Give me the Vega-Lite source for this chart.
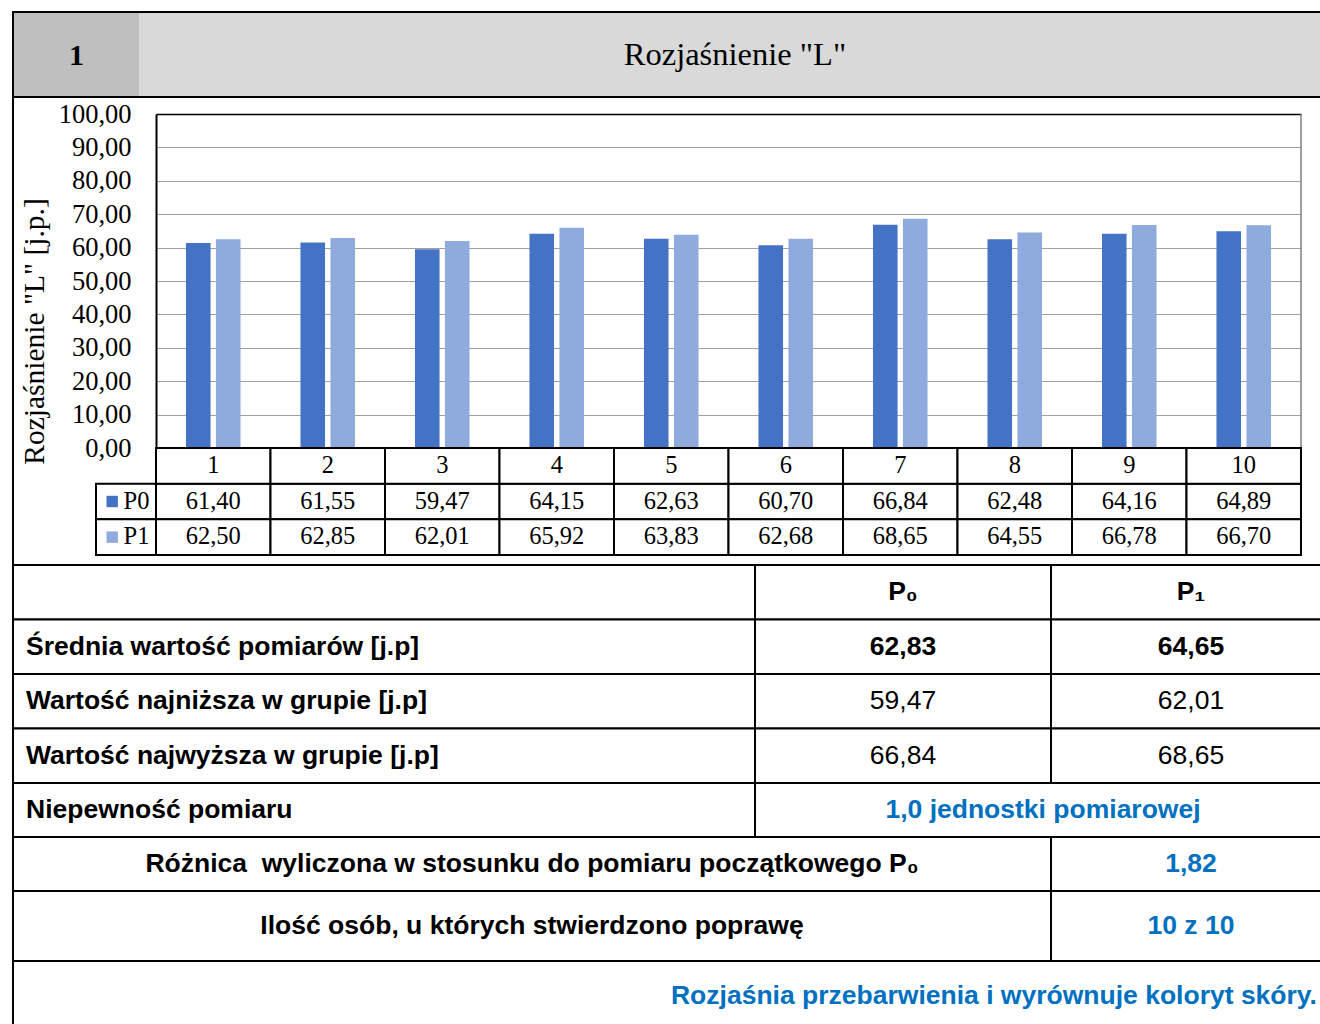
{
  "$schema": "https://vega.github.io/schema/vega-lite/v6.json",
  "padding": {"left": 11, "top": 11, "right": -11, "bottom": -8},
  "background": "white",
  "config": {
    "view": {"stroke": "black", "strokeWidth": 2},
    "concat": {"spacing": 0},
    "locale": {"number": {"decimal": ",", "thousands": " ", "grouping": [3], "currency": ["", ""]}},
    "text": {"color": "black"}
  },
  "datasets": {
    "bars": [
      {"cat": "1", "series": "P0", "value": 61.40}, {"cat": "1", "series": "P1", "value": 62.50},
      {"cat": "2", "series": "P0", "value": 61.55}, {"cat": "2", "series": "P1", "value": 62.85},
      {"cat": "3", "series": "P0", "value": 59.47}, {"cat": "3", "series": "P1", "value": 62.01},
      {"cat": "4", "series": "P0", "value": 64.15}, {"cat": "4", "series": "P1", "value": 65.92},
      {"cat": "5", "series": "P0", "value": 62.63}, {"cat": "5", "series": "P1", "value": 63.83},
      {"cat": "6", "series": "P0", "value": 60.70}, {"cat": "6", "series": "P1", "value": 62.68},
      {"cat": "7", "series": "P0", "value": 66.84}, {"cat": "7", "series": "P1", "value": 68.65},
      {"cat": "8", "series": "P0", "value": 62.48}, {"cat": "8", "series": "P1", "value": 64.55},
      {"cat": "9", "series": "P0", "value": 64.16}, {"cat": "9", "series": "P1", "value": 66.78},
      {"cat": "10", "series": "P0", "value": 64.89}, {"cat": "10", "series": "P1", "value": 66.70}
    ],
    "stats": [
      {"stat": "hdr", "label": "", "P0": null, "P1": null},
      {"stat": "mean", "label": "Średnia wartość pomiarów [j.p]", "P0": 62.83, "P1": 64.65},
      {"stat": "min", "label": "Wartość najniższa w grupie [j.p]", "P0": 59.47, "P1": 62.01},
      {"stat": "max", "label": "Wartość najwyższa w grupie [j.p]", "P0": 66.84, "P1": 68.65}
    ]
  },
  "bounds": "flush",
  "vconcat": [
    {
      "width": 1318, "height": 85,
      "view": {"fill": "#d9d9d9"},
      "data": {"values": [{"num": "1", "title": "Rozjaśnienie \"L\"", "row": "h"}]},
      "resolve": {"scale": {"x": "independent"}},
      "layer": [
        {
          "encoding": {
            "x": {"field": "num", "type": "nominal", "scale": {"range": [1, 126], "paddingInner": 0, "paddingOuter": 0}, "axis": null}
          },
          "layer": [
            {"mark": {"type": "rect", "fill": "#bfbfbf"},
             "encoding": {"y": {"field": "row", "type": "nominal", "scale": {"range": [1, 84], "paddingInner": 0, "paddingOuter": 0}, "axis": null}}},
            {"mark": {"type": "text", "font": "Liberation Serif", "fontWeight": "bold", "fontSize": 30, "dy": 1},
             "encoding": {"text": {"field": "num"}}}
          ]
        },
        {
          "mark": {"type": "text", "font": "Liberation Serif", "fontSize": 32.5},
          "encoding": {
            "x": {"field": "title", "type": "nominal", "scale": {"range": [126, 1318], "paddingInner": 0, "paddingOuter": 0}, "axis": null},
            "text": {"field": "title"}
          }
        }
      ]
    },
    {
      "width": 1318, "height": 468,
      "resolve": {"scale": {"x": "independent", "y": "independent"}},
      "layer": [
        {
          "layer": [
            {
              "data": {"name": "bars"},
              "mark": {"type": "bar"},
              "encoding": {
                "x": {"field": "cat", "type": "nominal", "sort": null,
                      "scale": {"domain": ["1","2","3","4","5","6","7","8","9","10"], "range": [143, 1288], "paddingInner": 0, "paddingOuter": 0},
                      "axis": {"orient": "top", "offset": -17, "labels": false, "ticks": false, "domain": true, "domainColor": "black", "domainWidth": 1.5, "grid": false, "title": null}},
                "xOffset": {"field": "series", "type": "nominal", "scale": {"domain": ["P0", "P1"], "paddingInner": 0.18, "paddingOuter": 1.21}},
                "y": {"field": "value", "type": "quantitative",
                      "scale": {"domain": [0, 100], "range": [351, 17], "nice": false, "zero": true},
                      "axis": {"orient": "left", "offset": -143, "values": [0,10,20,30,40,50,60,70,80,90,100], "format": ".2f",
                               "labelFont": "Liberation Serif", "labelFontSize": 26.5, "labelColor": "black", "labelPadding": 25,
                               "ticks": false, "domain": true, "domainColor": "black", "domainWidth": 2,
                               "grid": true, "gridColor": "#a0a0a0", "gridWidth": 1.2,
                               "title": "Rozjaśnienie \"L\" [j.p.]", "titleFont": "Liberation Serif", "titleFontSize": 29.5, "titleFontWeight": "normal",
                               "titleColor": "black", "titleX": -122, "titleY": 234, "titleAngle": -90, "titleAlign": "center", "titleBaseline": "middle"}},
                "color": {"field": "series", "type": "nominal", "scale": {"domain": ["P0", "P1"], "range": ["#4472c4", "#8faadc"]}, "legend": null}
              }
            },
            {
              "data": {"values": [{"edge": "right"}]},
              "mark": {"type": "rule", "color": "#7f7f7f", "strokeWidth": 1.5},
              "encoding": {
                "x": {"datum": "10", "type": "nominal", "bandPosition": 1},
                "y": {"datum": 0, "type": "quantitative"},
                "y2": {"datum": 100}
              }
            }
          ]
        },
        {
          "data": {"name": "bars"},
          "encoding": {
            "x": {"field": "cat", "type": "nominal", "sort": null,
                  "scale": {"domain": ["1","2","3","4","5","6","7","8","9","10"], "range": [143, 1288], "paddingInner": 0, "paddingOuter": 0}, "axis": null},
            "y": {"field": "series", "type": "nominal", "scale": {"domain": ["cat", "P0", "P1"], "range": [351, 458], "paddingInner": 0, "paddingOuter": 0}, "axis": null}
          },
          "layer": [
            {"mark": {"type": "rect", "fill": "white", "stroke": "black", "strokeWidth": 2}},
            {"mark": {"type": "text", "font": "Liberation Serif", "fontSize": 24.5},
             "encoding": {"text": {"field": "value", "type": "quantitative", "format": ".2f"}}},
            {"transform": [{"filter": "datum.series === 'P0'"}],
             "mark": {"type": "rect", "fill": "white", "stroke": "black", "strokeWidth": 2},
             "encoding": {"y": {"datum": "cat", "type": "nominal"}}},
            {"transform": [{"filter": "datum.series === 'P0'"}],
             "mark": {"type": "text", "font": "Liberation Serif", "fontSize": 24.5},
             "encoding": {"y": {"datum": "cat", "type": "nominal"}, "text": {"field": "cat"}}}
          ]
        },
        {
          "data": {"name": "bars"},
          "transform": [{"filter": "datum.cat === '1'"}],
          "encoding": {
            "y": {"field": "series", "type": "nominal", "scale": {"domain": ["cat", "P0", "P1"], "range": [351, 458], "paddingInner": 0, "paddingOuter": 0}, "axis": null}
          },
          "layer": [
            {"mark": {"type": "rect", "fill": "white", "stroke": "black", "strokeWidth": 2},
             "encoding": {"x": {"datum": "leg", "type": "nominal", "scale": {"domain": ["leg"], "range": [83, 143], "paddingInner": 0, "paddingOuter": 0}, "axis": null}}},
            {"mark": {"type": "point", "shape": "square", "filled": true, "size": 130, "opacity": 1},
             "encoding": {"x": {"datum": "leg", "type": "nominal", "bandPosition": 0.27},
                          "color": {"field": "series", "type": "nominal", "scale": {"domain": ["P0", "P1"], "range": ["#4472c4", "#8faadc"]}, "legend": null}}},
            {"mark": {"type": "text", "align": "left", "font": "Liberation Serif", "fontSize": 24.5},
             "encoding": {"x": {"datum": "leg", "type": "nominal", "bandPosition": 0.46}, "text": {"field": "series"}}}
          ]
        }
      ]
    },
    {
      "width": 1318, "height": 218,
      "data": {"name": "stats"},
      "encoding": {"y": {"field": "stat", "type": "nominal", "scale": {"domain": ["hdr", "mean", "min", "max"], "paddingInner": 0, "paddingOuter": 0}, "axis": null}},
      "resolve": {"scale": {"x": "independent"}},
      "layer": [
        {
          "encoding": {"x": {"datum": "label", "type": "nominal", "scale": {"domain": ["label"], "range": [0, 742], "paddingInner": 0, "paddingOuter": 0}, "axis": null}},
          "layer": [
            {"mark": {"type": "rect", "fill": "white", "stroke": "black", "strokeWidth": 2}},
            {"mark": {"type": "text", "align": "left", "dx": 13, "font": "Liberation Sans", "fontWeight": "bold", "fontSize": 26.5},
             "encoding": {"x": {"datum": "label", "type": "nominal", "bandPosition": 0}, "text": {"field": "label"}}}
          ]
        },
        {
          "encoding": {"x": {"datum": "P0", "type": "nominal", "scale": {"domain": ["P0"], "range": [742, 1038], "paddingInner": 0, "paddingOuter": 0}, "axis": null}},
          "layer": [
            {"mark": {"type": "rect", "fill": "white", "stroke": "black", "strokeWidth": 2}},
            {"transform": [{"filter": "datum.stat === 'hdr'"}],
             "mark": {"type": "text", "font": "Liberation Sans", "fontWeight": "bold", "fontSize": 26.5},
             "encoding": {"text": {"value": "P₀"}}},
            {"transform": [{"filter": "datum.stat === 'mean'"}],
             "mark": {"type": "text", "font": "Liberation Sans", "fontWeight": "bold", "fontSize": 26.5},
             "encoding": {"text": {"field": "P0", "type": "quantitative", "format": ".2f"}}},
            {"transform": [{"filter": "datum.stat === 'min' || datum.stat === 'max'"}],
             "mark": {"type": "text", "font": "Liberation Sans", "fontSize": 26.5},
             "encoding": {"text": {"field": "P0", "type": "quantitative", "format": ".2f"}}}
          ]
        },
        {
          "encoding": {"x": {"datum": "P1", "type": "nominal", "scale": {"domain": ["P1"], "range": [1038, 1318], "paddingInner": 0, "paddingOuter": 0}, "axis": null}},
          "layer": [
            {"mark": {"type": "rect", "fill": "white", "stroke": "black", "strokeWidth": 2}},
            {"transform": [{"filter": "datum.stat === 'hdr'"}],
             "mark": {"type": "text", "font": "Liberation Sans", "fontWeight": "bold", "fontSize": 26.5},
             "encoding": {"text": {"value": "P₁"}}},
            {"transform": [{"filter": "datum.stat === 'mean'"}],
             "mark": {"type": "text", "font": "Liberation Sans", "fontWeight": "bold", "fontSize": 26.5},
             "encoding": {"text": {"field": "P1", "type": "quantitative", "format": ".2f"}}},
            {"transform": [{"filter": "datum.stat === 'min' || datum.stat === 'max'"}],
             "mark": {"type": "text", "font": "Liberation Sans", "fontSize": 26.5},
             "encoding": {"text": {"field": "P1", "type": "quantitative", "format": ".2f"}}}
          ]
        }
      ]
    },
    {
      "width": 1318, "height": 54,
      "data": {"values": [{"label": "Niepewność pomiaru", "value": "1,0 jednostki pomiarowej"}]},
      "resolve": {"scale": {"x": "independent"}},
      "layer": [
        {"mark": {"type": "text", "align": "left", "dx": 13, "font": "Liberation Sans", "fontWeight": "bold", "fontSize": 26.5},
         "encoding": {"x": {"datum": 0, "type": "quantitative", "scale": {"domain": [0, 1]}, "axis": null},
                      "text": {"field": "label"}}},
        {
          "encoding": {"x": {"datum": "value", "type": "nominal", "scale": {"domain": ["value"], "range": [742, 1318], "paddingInner": 0, "paddingOuter": 0}, "axis": null}},
          "layer": [
            {"mark": {"type": "rect", "fill": "white", "stroke": "black", "strokeWidth": 2}},
            {"mark": {"type": "text", "font": "Liberation Sans", "fontWeight": "bold", "fontSize": 26.5, "color": "#0070c0"},
             "encoding": {"text": {"field": "value"}}}
          ]
        }
      ]
    },
    {
      "width": 1318, "height": 54,
      "data": {"values": [{"label": "Różnica \u00a0wyliczona w stosunku do pomiaru początkowego P₀", "value": 1.82}]},
      "resolve": {"scale": {"x": "independent"}},
      "layer": [
        {"mark": {"type": "text", "font": "Liberation Sans", "fontWeight": "bold", "fontSize": 26.5},
         "encoding": {"x": {"datum": "label", "type": "nominal", "scale": {"domain": ["label"], "range": [0, 1038], "paddingInner": 0, "paddingOuter": 0}, "axis": null},
                      "text": {"field": "label"}}},
        {
          "encoding": {"x": {"datum": "value", "type": "nominal", "scale": {"domain": ["value"], "range": [1038, 1318], "paddingInner": 0, "paddingOuter": 0}, "axis": null}},
          "layer": [
            {"mark": {"type": "rect", "fill": "white", "stroke": "black", "strokeWidth": 2}},
            {"mark": {"type": "text", "font": "Liberation Sans", "fontWeight": "bold", "fontSize": 26.5, "color": "#0070c0"},
             "encoding": {"text": {"field": "value", "type": "quantitative", "format": ".2f"}}}
          ]
        }
      ]
    },
    {
      "width": 1318, "height": 70,
      "data": {"values": [{"label": "Ilość osób, u których stwierdzono poprawę", "value": "10 z 10"}]},
      "resolve": {"scale": {"x": "independent"}},
      "layer": [
        {"mark": {"type": "text", "font": "Liberation Sans", "fontWeight": "bold", "fontSize": 26.5},
         "encoding": {"x": {"datum": "label", "type": "nominal", "scale": {"domain": ["label"], "range": [0, 1038], "paddingInner": 0, "paddingOuter": 0}, "axis": null},
                      "text": {"field": "label"}}},
        {
          "encoding": {"x": {"datum": "value", "type": "nominal", "scale": {"domain": ["value"], "range": [1038, 1318], "paddingInner": 0, "paddingOuter": 0}, "axis": null}},
          "layer": [
            {"mark": {"type": "rect", "fill": "white", "stroke": "black", "strokeWidth": 2}},
            {"mark": {"type": "text", "font": "Liberation Sans", "fontWeight": "bold", "fontSize": 26.5, "color": "#0070c0"},
             "encoding": {"text": {"field": "value"}}}
          ]
        }
      ]
    },
    {
      "width": 1318, "height": 70,
      "data": {"values": [{"note": "Rozjaśnia przebarwienia i wyrównuje koloryt skóry."}]},
      "mark": {"type": "text", "align": "right", "dx": -14, "font": "Liberation Sans", "fontWeight": "bold", "fontSize": 26.5, "color": "#0070c0"},
      "encoding": {"x": {"datum": 1, "type": "quantitative", "scale": {"domain": [0, 1]}, "axis": null}, "text": {"field": "note"}}
    }
  ]
}
